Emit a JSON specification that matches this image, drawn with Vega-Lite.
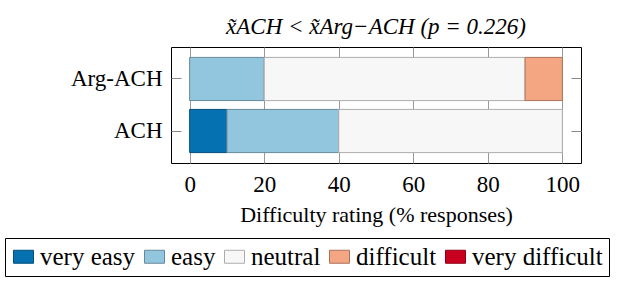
{
  "$schema": "https://vega.github.io/schema/vega-lite/v6.json",
  "width": 410,
  "height": 116,
  "autosize": {"type": "none"},
  "padding": {"left": 171, "top": 47, "right": 56, "bottom": 119},
  "background": "white",
  "title": {"text": "x̃ACH < x̃Arg−ACH (p = 0.226)", "font": "Liberation Serif", "fontStyle": "italic", "fontWeight": "normal", "fontSize": 23, "offset": 8, "color": "black"},
  "data": {"values": [
    {"method": "Arg-ACH", "rating": "easy", "pct": 20, "o": 2},
    {"method": "Arg-ACH", "rating": "neutral", "pct": 70, "o": 3},
    {"method": "Arg-ACH", "rating": "difficult", "pct": 10, "o": 4},
    {"method": "ACH", "rating": "very easy", "pct": 10, "o": 1},
    {"method": "ACH", "rating": "easy", "pct": 30, "o": 2},
    {"method": "ACH", "rating": "neutral", "pct": 60, "o": 3}
  ]},
  "layer": [
    {
      "mark": {"type": "bar", "strokeWidth": 1},
      "encoding": {
        "y": {"field": "method", "type": "nominal", "sort": ["Arg-ACH", "ACH"],
              "scale": {"paddingInner": 0.17, "paddingOuter": 0.2},
              "axis": {"orient": "left", "offset": -10, "title": null, "domain": false, "tickSize": 10, "tickColor": "#888", "labelPadding": 9, "labelFont": "Liberation Serif", "labelFontSize": 23}},
        "x": {"field": "pct", "type": "quantitative", "stack": "zero",
              "scale": {"domain": [-5, 105], "nice": false},
              "axis": {"values": [0, 20, 40, 60, 80, 100], "grid": true, "gridColor": "#999", "ticks": false, "domain": false, "labelPadding": 10, "labelFont": "Liberation Serif", "labelFontSize": 23, "title": "Difficulty rating (% responses)", "titleFont": "Liberation Serif", "titleFontSize": 22, "titleFontWeight": "normal", "titlePadding": 8}},
        "fill": {"field": "rating", "type": "nominal",
                 "scale": {"domain": ["very easy", "easy", "neutral", "difficult", "very difficult"], "range": ["#0571b0", "#92c5de", "#f7f7f7", "#f4a582", "#ca0020"]},
                 "legend": {"title": null, "labelFont": "Liberation Serif"}},
        "stroke": {"field": "rating", "type": "nominal",
                 "scale": {"domain": ["very easy", "easy", "neutral", "difficult", "very difficult"], "range": ["#044f7b", "#668a9b", "#adadad", "#ab735b", "#8d0016"]},
                 "legend": {"title": null, "labelFont": "Liberation Serif"}},
        "order": {"field": "o", "type": "quantitative"}
      }
    },
    {
      "mark": {"type": "tick", "opacity": 0},
      "encoding": {
        "y": {"field": "method", "type": "nominal", "sort": ["Arg-ACH", "ACH"],
              "axis": {"orient": "right", "offset": -10, "title": null, "domain": false, "labels": false, "tickSize": 10, "tickColor": "#888"}}
      }
    }
  ],
  "resolve": {"axis": {"y": "independent"}},
  "config": {
    "font": "Liberation Serif",
    "style": {
      "guide-label": {"font": "Liberation Serif", "fill": "black"},
      "guide-title": {"font": "Liberation Serif", "fill": "black"},
      "group-title": {"font": "Liberation Serif"}
    },
    "axis": {"labelFont": "Liberation Serif", "titleFont": "Liberation Serif", "labelColor": "black", "titleColor": "black"},
    "title": {"font": "Liberation Serif"},
    "view": {"stroke": "black", "strokeWidth": 1},
    "legend": {
      "orient": "none", "legendX": -166, "legendY": 191, "direction": "horizontal", "columns": 5,
      "symbolType": "M-1,-0.65L1,-0.65L1,0.65L-1,0.65Z", "symbolSize": 400, "symbolStrokeWidth": 1,
      "labelFont": "Liberation Serif", "labelFontSize": 25, "labelColor": "black", "labelOffset": 4,
      "columnPadding": 6, "padding": 6, "strokeColor": "black", "fillColor": "white"
    }
  }
}
